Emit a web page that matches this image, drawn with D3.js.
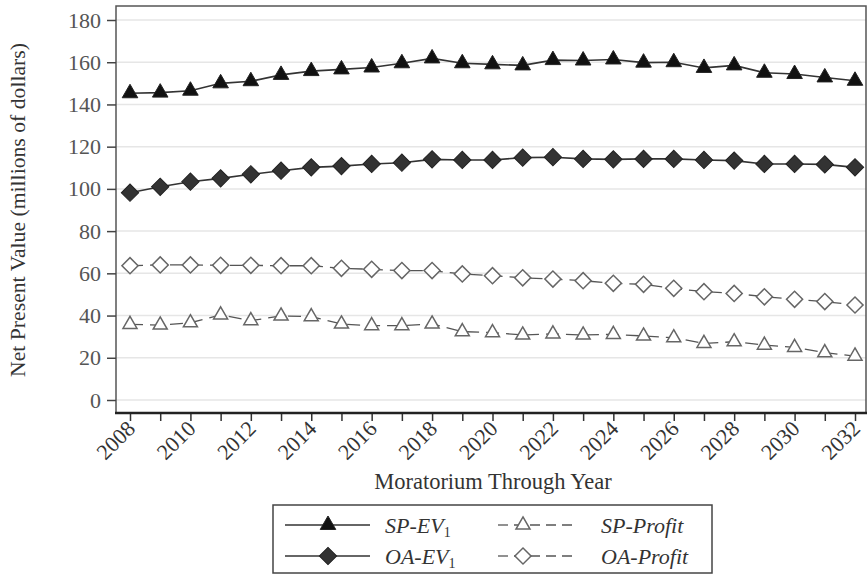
<!DOCTYPE html>
<html>
<head>
<meta charset="utf-8">
<script src="https://cdn.jsdelivr.net/npm/d3@7"></script>
<style>
	body { margin: 0; background: #fff; }
	svg { display: block; }
</style>
</head>
<body>
<svg id="chart"></svg>
<script>
const years = d3.range(2008, 2033)
const yTicks = [0, 20, 40, 60, 80, 100, 120, 140, 160, 180]

const spEv1 = [145.3, 145.6, 146.5, 150, 151, 154, 155.8, 156.6, 157.5, 159.5, 161.8, 159.5,
	159, 158.5, 161, 160.8, 161.3, 159.8, 160, 157.3, 158.5, 155, 154.4, 152.8, 151.2]
const oaEv1 = [98.2, 101, 103.4, 105, 106.9, 108.6, 110.2, 110.8, 111.8, 112.4, 114, 113.7,
	113.7, 114.8, 115, 114.2, 114, 114.2, 114.2, 113.7, 113.4, 111.8, 111.8, 111.6, 110.2]
const oaProfit = [63.6, 64, 64, 63.8, 63.8, 63.6, 63.6, 62.4, 61.9, 61.3, 61.3, 59.7,
	58.9, 57.9, 57.3, 56.5, 55.3, 54.8, 52.9, 51.3, 50.5, 48.9, 47.7, 46.6, 45]
const spProfit = [35.8, 35.5, 36.6, 40.3, 37.6, 39.8, 39.5, 36, 35.2, 35.2, 36, 32.4,
	31.9, 30.8, 31.3, 30.8, 31.1, 30.3, 29.5, 26.8, 27.6, 26, 24.9, 22.4, 20.8]

const series = [
	{ name: "SP-EV", sub: "1", values: spEv1, shape: "triangle", filled: true, dashed: false },
	{ name: "OA-EV", sub: "1", values: oaEv1, shape: "diamond", filled: true, dashed: false },
	{ name: "SP-Profit", sub: "", values: spProfit, shape: "triangle", filled: false, dashed: true },
	{ name: "OA-Profit", sub: "", values: oaProfit, shape: "diamond", filled: false, dashed: true }
]

const width = 868, height = 576
const font = "'Liberation Serif', 'Times New Roman', serif"
const frame = { left: 116, top: 6, right: 866, bottom: 413 }

const svg = d3.select("#chart").attr("width", width).attr("height", height)

const x = d3.scaleLinear().domain([2008, 2032]).range([130, 855])
const y = d3.scaleLinear().domain([0, 180]).range([400, 20])

const symbolPath = (shape, filled) => {
	if (shape === "triangle") return d3.symbol().type(d3.symbolTriangle).size(filled ? 105 : 85)()
	return d3.symbol().type(d3.symbolSquare).size(filled ? 150 : 130)()
}

// gridlines
svg.append("g")
	.selectAll("line")
	.data(yTicks)
	.join("line")
	.attr("x1", frame.left).attr("x2", frame.right)
	.attr("y1", d => y(d)).attr("y2", d => y(d))
	.style("stroke", "#e6e6e6")
	.style("stroke-width", 1.5)

// frame
svg.append("rect")
	.attr("x", frame.left).attr("y", frame.top)
	.attr("width", frame.right - frame.left).attr("height", frame.bottom - frame.top)
	.style("fill", "none")
	.style("stroke", "#555")
	.style("stroke-width", 1.5)

// y axis
const yAxis = svg.append("g")
	.attr("transform", `translate(${frame.left},0)`)
	.call(d3.axisLeft(y).tickValues(yTicks).tickSize(9).tickPadding(6))
yAxis.select(".domain").remove()
yAxis.selectAll(".tick line").style("stroke", "#444").style("stroke-width", 1.5)
yAxis.selectAll(".tick text")
	.style("font-family", font).style("font-size", "22px").style("fill", "#555")

// x axis
const xAxis = svg.append("g")
	.attr("transform", `translate(0,${frame.bottom})`)
	.call(d3.axisBottom(x).tickValues(years).tickSize(8)
		.tickFormat(d => d % 2 === 0 ? d : ""))
xAxis.select(".domain").remove()
xAxis.selectAll(".tick line").style("stroke", "#333").style("stroke-width", 1.5)
xAxis.selectAll(".tick text")
	.attr("text-anchor", "end")
	.attr("dy", null)
	.attr("y", 0)
	.attr("transform", "translate(6,17) rotate(-45)")
	.style("font-family", font).style("font-size", "22px").style("fill", "#333")

svg.append("line")
	.attr("x1", frame.left - 1).attr("x2", frame.right + 1)
	.attr("y1", frame.bottom).attr("y2", frame.bottom)
	.style("stroke", "#222")
	.style("stroke-width", 2.5)

// axis titles
svg.append("text")
	.attr("transform", `translate(25,210) rotate(-90)`)
	.attr("text-anchor", "middle")
	.text("Net Present Value (millions of dollars)")
	.style("font-family", font).style("font-size", "21.7px").style("fill", "#333")

svg.append("text")
	.attr("x", 493).attr("y", 489)
	.attr("text-anchor", "middle")
	.text("Moratorium Through Year")
	.style("font-family", font).style("font-size", "22.5px").style("fill", "#333")

// lines and markers
const line = d3.line().x((d, i) => x(years[i])).y(d => y(d))

series.forEach(s => {
	svg.append("path")
		.attr("d", line(s.values))
		.style("fill", "none")
		.style("stroke", s.dashed ? "#555" : "#333")
		.style("stroke-width", s.dashed ? 1.3 : 1.6)
		.style("stroke-dasharray", s.dashed ? "13,7" : null)

	svg.append("g")
		.selectAll("path")
		.data(s.values)
		.join("path")
		.attr("transform", (d, i) => `translate(${x(years[i])},${y(d)})` + (s.shape === "diamond" ? " rotate(45)" : ""))
		.attr("d", symbolPath(s.shape, s.filled))
		.style("fill", s.filled ? (s.shape === "triangle" ? "#111" : "#333") : "#fff")
		.style("stroke", s.filled ? "#222" : "#666")
		.style("stroke-width", s.filled ? 1 : 1.5)
})

// legend
const legend = svg.append("g")
legend.append("rect")
	.attr("x", 273).attr("y", 505)
	.attr("width", 439).attr("height", 68)
	.style("fill", "#fff")
	.style("stroke", "#444")
	.style("stroke-width", 1.5)

const legendPos = [
	{ x1: 285, x2: 370, mx: 328, tx: 385, y: 525 },
	{ x1: 285, x2: 370, mx: 328, tx: 385, y: 556 },
	{ x1: 498, x2: 578, mx: 523, tx: 601, y: 525 },
	{ x1: 498, x2: 578, mx: 523, tx: 601, y: 556 }
]

series.forEach((s, i) => {
	const p = legendPos[i]
	legend.append("line")
		.attr("x1", p.x1).attr("x2", p.x2)
		.attr("y1", p.y).attr("y2", p.y)
		.style("stroke", s.dashed ? "#555" : "#333")
		.style("stroke-width", s.dashed ? 1.3 : 1.6)
		.style("stroke-dasharray", s.dashed ? "10,6" : null)
	legend.append("path")
		.attr("transform", `translate(${p.mx},${p.y})` + (s.shape === "diamond" ? " rotate(45)" : ""))
		.attr("d", symbolPath(s.shape, s.filled))
		.style("fill", s.filled ? (s.shape === "triangle" ? "#111" : "#333") : "#fff")
		.style("stroke", s.filled ? "#222" : "#666")
		.style("stroke-width", s.filled ? 1 : 1.5)
	const t = legend.append("text")
		.attr("x", p.tx).attr("y", p.y + 8)
		.style("font-family", font).style("font-size", "22px")
		.style("font-style", "italic").style("fill", "#333")
	t.append("tspan").text(s.name)
	if (s.sub) {
		t.append("tspan").text(s.sub)
			.attr("dy", 4)
			.style("font-size", "14px")
			.style("font-style", "normal")
	}
})
</script>
</body>
</html>
